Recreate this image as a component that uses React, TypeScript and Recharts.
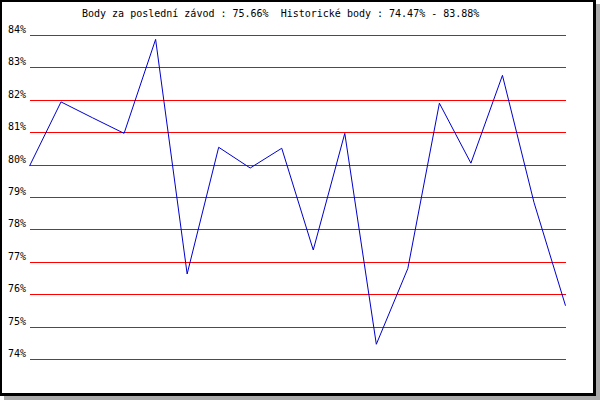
import React from "react";
import { LineChart, Line, XAxis, YAxis, CartesianGrid } from "recharts";

const races = [1, 2, 3, 4, 5, 6, 7, 8, 9, 10, 11, 12, 13, 14, 15, 16, 17, 18];
const points = [
  79.97, 81.95, 81.46, 80.98, 83.88, 76.64, 80.55, 79.91, 80.52, 77.38, 80.98, 74.47, 76.81,
  81.91, 80.06, 82.77, 78.85, 75.66,
];
const yTicks = [74, 75, 76, 77, 78, 79, 80, 81, 82, 83, 84];
const title = "Body za poslední závod : 75.66%  Historické body : 74.47% - 83.88%";

const data = races.map((r, i) => ({ race: r, body: points[i] }));

const mono = "'DejaVu Sans Mono', monospace";

function PercentTick(props: any) {
  const { y, payload } = props;
  return (
    <text x={26} y={y - 2.5} textAnchor="end" fontFamily={mono} fontSize={10} fill="#000">
      {payload.value}%
    </text>
  );
}

export default function App() {
  return (
    <div style={{ position: "absolute", top: 0, left: 0, width: 600, height: 400, background: "#fff" }}>
      <div
        style={{
          position: "absolute",
          top: 0,
          left: 0,
          width: 596,
          height: 396,
          boxSizing: "border-box",
          borderStyle: "solid",
          borderColor: "#000",
          borderWidth: "2px 3px 3px 2px",
          background: "#fff",
          boxShadow: "4px 4px 0 0 #aaaaaa",
        }}
      />
      <div
        style={{
          position: "absolute",
          top: 9,
          left: 82,
          fontFamily: mono,
          fontSize: 10,
          lineHeight: "10px",
          whiteSpace: "pre",
          color: "#000",
        }}
      >
        {title}
      </div>
      <div style={{ position: "absolute", top: 0, left: 0 }}>
        <LineChart
          width={600}
          height={400}
          data={data}
          margin={{ top: 35.5, right: 34.5, bottom: 40.5, left: 0 }}
        >
          <CartesianGrid
            vertical={false}
            stroke="#ff0000"
            strokeDasharray=""
            shapeRendering="crispEdges"
          />
          <XAxis dataKey="race" hide />
          <YAxis
            width={29.5}
            domain={[74, 84]}
            ticks={yTicks}
            interval={0}
            tickLine={false}
            axisLine={false}
            tick={<PercentTick />}
          />
          <Line
            type="linear"
            dataKey="body"
            stroke="#0000cc"
            strokeWidth={1}
            dot={false}
            activeDot={false}
            isAnimationActive={false}
          />
        </LineChart>
      </div>
    </div>
  );
}
